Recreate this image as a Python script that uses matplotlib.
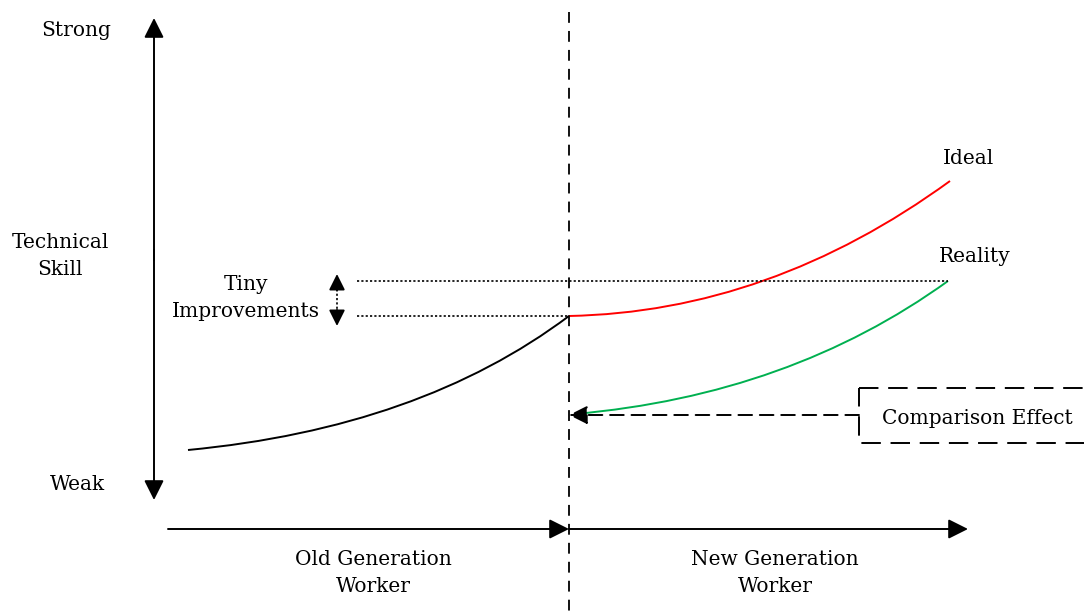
import matplotlib.pyplot as plt
from matplotlib.path import Path
from matplotlib.patches import PathPatch, FancyArrowPatch, Rectangle

plt.rcParams['font.family'] = ['DejaVu Serif']

# pixel-like canvas coordinates
divider_x = 569

# curves as quadratic bezier: start, control, end
old_curve = [(188, 450), (420, 428), (569, 316)]
ideal_curve = [(569, 316), (770, 312), (950, 181)]
reality_curve = [(575, 414), (790, 395), (948, 281)]

labels_y = ["Strong", "Technical\nSkill", "Weak"]
labels_y_pos = [(76, 30), (60, 256), (77, 485)]
labels_x = ["Old Generation\nWorker", "New Generation\nWorker"]
labels_x_pos = [(373, 573), (775, 573)]

fig = plt.figure(figsize=(10.84, 6.14), dpi=100)
ax = fig.add_axes([0, 0, 1, 1])
ax.set_xlim(0, 1084)
ax.set_ylim(614, 0)
ax.axis('off')

fs = 14.5


def bezier(ax, pts, color):
    path = Path(pts, [Path.MOVETO, Path.CURVE3, Path.CURVE3])
    ax.add_patch(PathPatch(path, fill=False, edgecolor=color, lw=1.4))


def arrow(ax, p0, p1, style='-|>', ls='-', lw=1.4, ms=30):
    ax.add_patch(FancyArrowPatch(p0, p1, arrowstyle=style, mutation_scale=ms,
                                 color='black', lw=lw, linestyle=ls,
                                 shrinkA=0, shrinkB=0))


# divider
ax.plot([divider_x, divider_x], [12, 614], color='black', lw=1.3,
        dashes=(6, 4.5))

# axes arrows
arrow(ax, (154, 260), (154, 18))
arrow(ax, (154, 250), (154, 500))
arrow(ax, (168, 529), (divider_x, 529))
arrow(ax, (divider_x, 529), (968, 529))

# curves
bezier(ax, old_curve, 'black')
bezier(ax, ideal_curve, '#ff0000')
bezier(ax, reality_curve, '#00b050')

# dotted reference lines
ax.plot([357, 948], [281, 281], color='black', lw=1.2, ls=(0, (1.3, 1.3)))
ax.plot([357, divider_x], [316, 316], color='black', lw=1.2, ls=(0, (1.3, 1.3)))
ax.plot([337, 337], [285, 315], color='black', lw=1.2, ls=(0, (1.3, 1.3)))
arrow(ax, (337, 290), (337, 274), ms=24)
arrow(ax, (337, 310), (337, 326), ms=24)

# comparison effect box and arrow
ax.add_patch(Rectangle((859, 388), 260, 55, fill=False, edgecolor='black',
                       lw=1.4, ls=(0, (10, 5)), clip_on=True))
ax.add_patch(FancyArrowPatch((859, 415), (divider_x, 415), arrowstyle='-|>',
                             mutation_scale=28, color='black', lw=1.4,
                             linestyle=(0, (7, 4)), shrinkA=0, shrinkB=0))

# texts
kw = dict(ha='center', va='center', fontsize=fs, linespacing=1.55)
for t, (x, y) in zip(labels_y, labels_y_pos):
    ax.text(x, y, t, **kw)
for t, (x, y) in zip(labels_x, labels_x_pos):
    ax.text(x, y, t, **kw)
ax.text(246, 298, "Tiny\nImprovements", **kw)
ax.text(969, 159, "Ideal", **kw)
ax.text(975, 257, "Reality", **kw)
ax.text(977, 418, "Comparison Effect", **kw)

fig.savefig('out.png', dpi=100)
